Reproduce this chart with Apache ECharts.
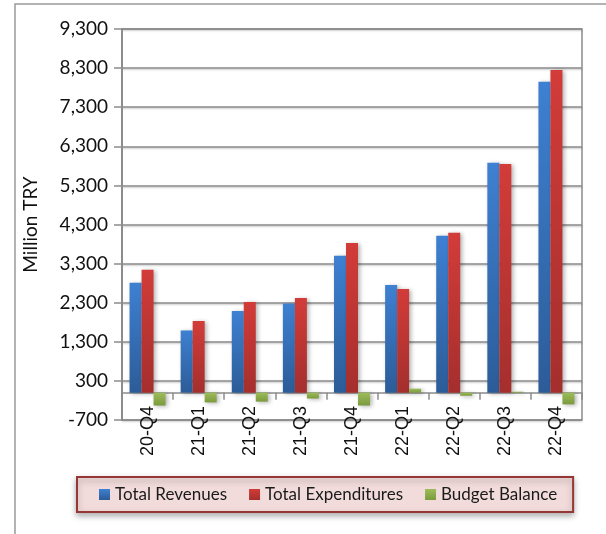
<!DOCTYPE html>
<html>
<head>
  <meta charset="utf-8">
  <script src="https://cdn.jsdelivr.net/npm/echarts@6/dist/echarts.min.js"></script>
</head>
<style>
  html, body { margin: 0; padding: 0; background: #fff; }
</style>
<body>
  <div id="main" style="width: 606px;height:534px;"></div>
  <script>
    // quarters and values (Million TRY)
    var quarters = ['20-Q4', '21-Q1', '21-Q2', '21-Q3', '21-Q4', '22-Q1', '22-Q2', '22-Q3', '22-Q4'];
    var revenues = [2810, 1590, 2090, 2280, 3500, 2750, 4010, 5880, 7950];
    var expenditures = [3140, 1830, 2320, 2420, 3830, 2650, 4090, 5850, 8250];
    var balance = [-330, -250, -230, -150, -330, 100, -80, 25, -300];

    function grad(top, bottom) {
      return new echarts.graphic.LinearGradient(0, 0, 0, 1, [
        { offset: 0, color: top },
        { offset: 1, color: bottom }
      ]);
    }

    var barShadow = {
      shadowColor: 'rgba(0,0,0,0.3)',
      shadowBlur: 4,
      shadowOffsetX: 2,
      shadowOffsetY: 1
    };

    var myChart = echarts.init(document.getElementById('main'));

    var option = {
      animation: false,
      graphic: [{
        type: 'rect',
        shape: { x: 15, y: 4, width: 620, height: 560 },
        style: { fill: 'none', stroke: '#9a9a9a', lineWidth: 1.5 },
        silent: true,
        z: -1
      }],
      grid: {
        left: 122,
        right: 24,
        top: 29,
        bottom: 114,
        show: true,
        borderColor: '#8c8c8c',
        borderWidth: 1.5
      },
      legend: {
        left: 77,
        top: 477,
        padding: [9, 16, 9, 22],
        itemWidth: 11,
        itemHeight: 11,
        itemGap: 22,
        icon: 'rect',
        backgroundColor: '#f2dcdb',
        borderColor: '#953735',
        borderWidth: 2,
        shadowColor: 'rgba(0,0,0,0.3)',
        shadowBlur: 6,
        shadowOffsetY: 3,
        textStyle: { fontFamily: 'Lato', fontSize: 17, color: '#1a1a1a' }
      },
      xAxis: {
        type: 'category',
        data: quarters,
        axisLine: { onZero: true, lineStyle: { color: '#8c8c8c', width: 1.5 } },
        axisTick: { show: true, length: 7, lineStyle: { color: '#8c8c8c', width: 1.5 } },
        axisLabel: {
          rotate: 90,
          margin: -14,
          fontFamily: 'Liberation Sans',
          fontSize: 18,
          color: '#111'
        }
      },
      yAxis: {
        type: 'value',
        name: 'Million TRY',
        nameLocation: 'middle',
        nameGap: 82,
        nameTextStyle: { fontFamily: 'Lato', fontSize: 19, color: '#111' },
        min: -700,
        max: 9300,
        interval: 1000,
        axisLine: { show: true, lineStyle: { color: '#8c8c8c', width: 2 } },
        axisTick: { show: true, length: 8, lineStyle: { color: '#8c8c8c', width: 1.5 } },
        axisLabel: {
          margin: 14,
          fontFamily: 'Lato',
          fontSize: 19,
          color: '#111',
          formatter: function (v) { return v.toLocaleString('en-US'); }
        },
        splitLine: {
          lineStyle: {
            color: '#8c8c8c',
            width: 1.5,
            shadowColor: 'rgba(0,0,0,0.25)',
            shadowBlur: 2,
            shadowOffsetY: 1
          }
        }
      },
      series: [{
        name: 'Total Revenues',
        type: 'bar',
        data: revenues,
        barWidth: 12,
        barGap: '0%',
        itemStyle: Object.assign({ color: grad('#3e80d2', '#2c5c98') }, barShadow)
      }, {
        name: 'Total Expenditures',
        type: 'bar',
        data: expenditures,
        barWidth: 12,
        barGap: '0%',
        itemStyle: Object.assign({ color: grad('#d23c39', '#a42f2d') }, barShadow)
      }, {
        name: 'Budget Balance',
        type: 'bar',
        data: balance,
        barWidth: 12,
        barGap: '0%',
        itemStyle: Object.assign({ color: grad('#9dbd5b', '#7a9a3c') }, barShadow)
      }]
    };

    myChart.setOption(option);
  </script>
</body>
</html>
